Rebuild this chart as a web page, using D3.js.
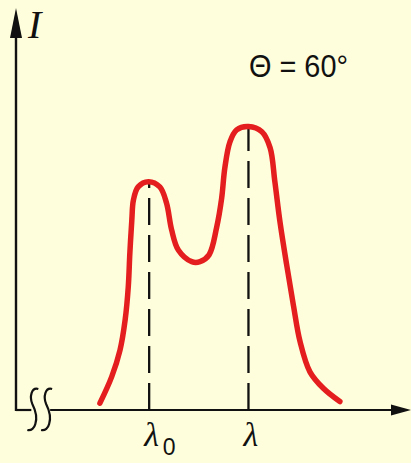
<!DOCTYPE html>
<html>
<head>
<meta charset="utf-8">
<script src="https://cdn.jsdelivr.net/npm/d3@7"></script>
<style>
  body { margin: 0; background: #fffedc; }
  svg { display: block; }
</style>
</head>
<body>
<svg id="chart" width="411" height="463"></svg>
<script>
// curve (arbitrary wavelength / intensity units)
const wavelength = [21.3, 24.3, 26.4, 27.7, 28.5, 28.9, 29.4, 29.8, 31.0, 33.6, 36.5, 38.2, 39.5, 41.2,
  44.6, 46.7, 49.0, 50.9, 52.2, 53.0, 54.3, 56.0, 59.0, 62.4, 64.5, 65.7, 67.0, 68.7, 70.4, 72.1, 74.6, 78.0, 82.2];
const intensity = [1.7, 8.3, 14.9, 22.4, 30.7, 39.1, 47.3, 52.2, 55.5, 56.8, 55.5, 51.5, 44.8, 39.8,
  36.9, 36.9, 38.6, 45.3, 52.7, 60.2, 66.7, 69.7, 70.5, 69.2, 65.2, 56.8, 46.8, 36.1, 26.1, 17.0, 9.5, 5.4, 2.1];

// the two marked peaks
const peakX = [33.8, 59.0];
const peakI = [56.8, 70.5];
const peakLabels = ["λ", "λ"];
const peakSubs = ["0", ""];

const angleLabel = "Θ = 60°";
const axisBreaks = [4.4, 7.9];

const svg = d3.select("#chart");
const x = d3.scaleLinear().domain([0, 100]).range([16, 410]);
const y = d3.scaleLinear().domain([0, 100]).range([410, 8]);

const ink = "#111";

// dashed peak markers (under the curve)
svg.append("g")
  .selectAll("line")
  .data(peakX)
  .enter().append("line")
  .attr("x1", d => x(d)).attr("x2", d => x(d))
  .attr("y1", y(0)).attr("y2", (d, i) => y(peakI[i]))
  .attr("stroke", ink)
  .attr("stroke-width", 2.3)
  .attr("stroke-dasharray", "27,10");

// x axis with a break near the origin
svg.append("line")
  .attr("x1", x(0)).attr("x2", x(axisBreaks[0]) - 2)
  .attr("y1", y(0)).attr("y2", y(0))
  .attr("stroke", ink).attr("stroke-width", 2.2);
svg.append("line")
  .attr("x1", x(axisBreaks[1]) + 3).attr("x2", x(100) - 10)
  .attr("y1", y(0)).attr("y2", y(0))
  .attr("stroke", ink).attr("stroke-width", 2.2);
svg.append("path")
  .attr("d", `M${x(100) + 1},${y(0)} L${x(100) - 19},${y(0) - 5.5} L${x(100) - 19},${y(0) + 5.5} Z`)
  .attr("fill", ink);

// break squiggles
svg.append("g")
  .selectAll("path")
  .data(axisBreaks)
  .enter().append("path")
  .attr("d", d => {
    const cx = x(d), cy = y(0);
    return `M${cx + 5},${cy - 21} C${cx - 2},${cy - 23} ${cx - 4},${cy - 13} ${cx - 1},${cy - 6}` +
      ` C${cx + 2},${cy} ${cx + 4},${cy + 8} ${cx + 2},${cy + 14} C${cx + 1},${cy + 18} ${cx - 2},${cy + 21} ${cx - 6},${cy + 20}`;
  })
  .attr("fill", "none")
  .attr("stroke", ink)
  .attr("stroke-width", 2.2);

// y axis
svg.append("line")
  .attr("x1", x(0)).attr("x2", x(0))
  .attr("y1", y(0) + 1).attr("y2", y(100) + 20)
  .attr("stroke", ink).attr("stroke-width", 2.4);
svg.append("path")
  .attr("d", `M${x(0)},${y(100)} L${x(0) - 6},${y(100) + 30} L${x(0) + 6},${y(100) + 30} Z`)
  .attr("fill", ink);

svg.append("text")
  .attr("x", x(0) + 12).attr("y", 38)
  .attr("font-family", "'Liberation Serif', 'Times New Roman', serif")
  .attr("font-style", "italic")
  .attr("font-size", 40)
  .attr("fill", ink)
  .text("I");

// spectrum curve
const line = d3.line()
  .x(d => x(d[0]))
  .y(d => y(d[1]))
  .curve(d3.curveCatmullRom.alpha(0.5));

svg.append("path")
  .datum(d3.zip(wavelength, intensity))
  .attr("d", line)
  .attr("fill", "none")
  .attr("stroke", "#e41e1e")
  .attr("stroke-width", 5.5)
  .attr("stroke-linecap", "round")
  .attr("stroke-linejoin", "round");

// peak labels
const lab = svg.append("g").selectAll("g")
  .data(peakX)
  .enter().append("g");
lab.append("text")
  .attr("x", d => x(d) + 2.5).attr("y", 446)
  .attr("text-anchor", "middle")
  .attr("font-family", "'Liberation Serif', 'Times New Roman', serif")
  .attr("font-style", "italic")
  .attr("font-size", 34)
  .attr("fill", ink)
  .text((d, i) => peakLabels[i]);
lab.append("text")
  .attr("x", d => x(d) + 20).attr("y", 455)
  .attr("text-anchor", "middle")
  .attr("font-family", "'Liberation Sans', Arial, sans-serif")
  .attr("font-size", 23)
  .attr("fill", ink)
  .text((d, i) => peakSubs[i]);

svg.append("text")
  .attr("x", 249).attr("y", 77)
  .attr("font-family", "'Liberation Sans', Arial, sans-serif")
  .attr("font-size", 32)
  .attr("textLength", 99)
  .attr("lengthAdjust", "spacingAndGlyphs")
  .attr("fill", ink)
  .text(angleLabel);
</script>
</body>
</html>
